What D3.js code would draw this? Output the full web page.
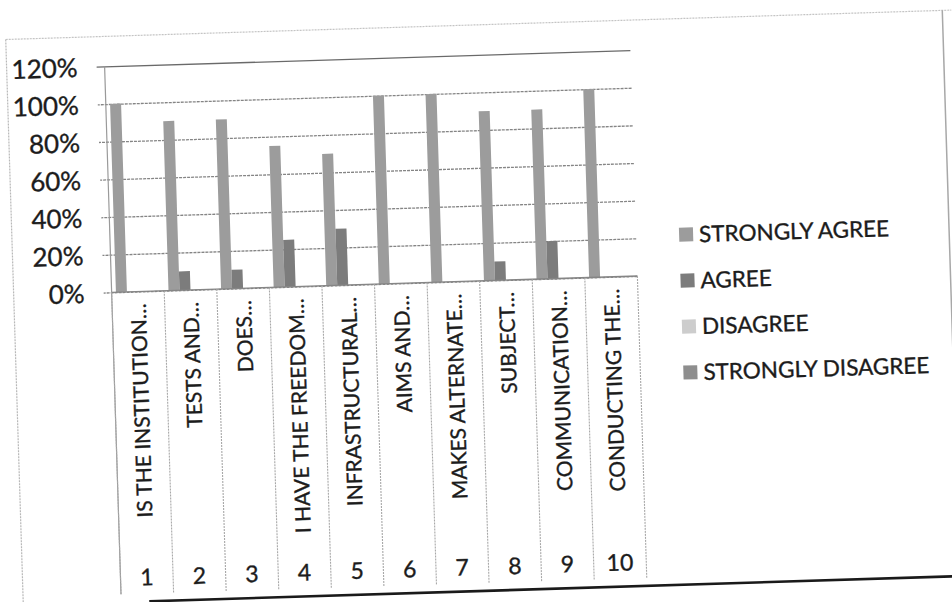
<!DOCTYPE html>
<html>
<head>
<meta charset="utf-8">
<script src="https://cdn.jsdelivr.net/npm/d3@7"></script>
<style>
  html, body { margin: 0; padding: 0; background: #ffffff; }
  svg { display: block; }
  text { font-family: Lato, "Open Sans", "Liberation Sans", sans-serif; fill: #1c1c1c; stroke: #1c1c1c; stroke-width: 0.35px; }
</style>
</head>
<body>
<svg id="chart" width="952" height="602"></svg>
<script>
// ---------------- data ----------------
const categories = ["IS THE INSTITUTION…", "TESTS AND…", "DOES…", "I HAVE THE FREEDOM…", "INFRASTRUCTURAL…",
                    "AIMS AND…", "MAKES ALTERNATE…", "SUBJECT…", "COMMUNICATION…", "CONDUCTING THE…"];
const categoryNumbers = ["1", "2", "3", "4", "5", "6", "7", "8", "9", "10"];
const seriesNames = ["STRONGLY AGREE", "AGREE", "DISAGREE", "STRONGLY DISAGREE"];
const stronglyAgree    = [1.00, 0.90, 0.90, 0.75, 0.70, 1.00, 1.00, 0.90, 0.90, 1.00];
const agree            = [0.00, 0.10, 0.10, 0.25, 0.30, 0.00, 0.00, 0.10, 0.20, 0.00];
const disagree         = [0, 0, 0, 0, 0, 0, 0, 0, 0, 0];
const stronglyDisagree = [0, 0, 0, 0, 0, 0, 0, 0, 0, 0];
const yTickValues = [0, 0.2, 0.4, 0.6, 0.8, 1.0, 1.2];
const seriesColors = ["#9c9c9c", "#7c7c7c", "#cdcdcd", "#8e8e8e"];

const seriesValues = [stronglyAgree, agree, disagree, stronglyDisagree];

// ---------------- layout ----------------
const svg = d3.select("#chart");
const root = svg.append("g").attr("transform", "rotate(-1.78, 380, 300)");

const plot = { left: 112, right: 638, top: 58, bottom: 284 };
const catBottom = 586;

// chart frame (scanned page border)
root.append("line").attr("x1", 14).attr("y1", 28).attr("x2", 960).attr("y2", 28)
  .attr("stroke", "#c4c4c4").attr("stroke-width", 1.2).attr("stroke-dasharray", "2,1");
root.append("line").attr("x1", 14).attr("y1", 28).attr("x2", 14).attr("y2", 596)
  .attr("stroke", "#b8b8b8").attr("stroke-width", 1.2).attr("stroke-dasharray", "2,1");
root.append("line").attr("x1", 951).attr("y1", 28).attr("x2", 951).attr("y2", 596)
  .attr("stroke", "#a8a8a8").attr("stroke-width", 1.5);
root.append("line").attr("x1", 140).attr("y1", 594).attr("x2", 980).attr("y2", 594)
  .attr("stroke", "#1a1a1a").attr("stroke-width", 2.6);

const y = d3.scaleLinear().domain([0, 1.2]).range([plot.bottom, plot.top]);
const x0 = d3.scaleBand().domain(d3.range(categories.length))
  .range([plot.left, plot.right]).paddingInner(0).paddingOuter(0);
const x1 = d3.scaleBand().domain(seriesNames).range([0, x0.bandwidth()])
  .paddingInner(0).paddingOuter(0.39);

// gridlines + y axis labels
const yAxis = d3.axisLeft(y).tickValues(yTickValues).tickFormat(d3.format(".0%"))
  .tickSize(plot.right - plot.left + 8).tickPadding(0);
const yg = root.append("g").attr("transform", `translate(${plot.right},0)`).call(yAxis);
yg.select(".domain").remove();
yg.selectAll(".tick line")
  .attr("stroke", d => d === 1.2 ? "#6a6a6a" : "#858585")
  .attr("stroke-width", 1.3)
  .attr("stroke-dasharray", d => d === 1.2 ? null : "3,1");
yg.selectAll(".tick text")
  .attr("x", -(plot.right - 85))
  .attr("dy", "0.35em")
  .attr("text-anchor", "end")
  .attr("fill", "#1c1c1c")
  .style("font-size", "26px");

// bars
const groups = root.append("g").selectAll("g")
  .data(categories.map((c, i) => i))
  .join("g")
  .attr("transform", i => `translate(${x0(i)},0)`);
groups.selectAll("rect")
  .data(i => seriesNames.map((s, k) => ({ s, k, v: seriesValues[k][i] })))
  .join("rect")
  .attr("x", d => x1(d.s))
  .attr("width", x1.bandwidth())
  .attr("y", d => y(d.v))
  .attr("height", d => y(0) - y(d.v))
  .attr("fill", d => seriesColors[d.k]);

// category axis: left line + separators
root.append("line").attr("x1", plot.left).attr("x2", plot.left)
  .attr("y1", plot.top).attr("y2", catBottom)
  .attr("stroke", "#9a9a9a").attr("stroke-width", 1.2);
root.append("line").attr("x1", plot.left).attr("x2", plot.right)
  .attr("y1", plot.bottom).attr("y2", plot.bottom)
  .attr("stroke", "#858585").attr("stroke-width", 1.3);
const bounds = d3.range(categories.length + 1).map(i => plot.left + i * x0.bandwidth());
root.append("g").selectAll("line").data(bounds).join("line")
  .attr("x1", d => d).attr("x2", d => d)
  .attr("y1", plot.bottom).attr("y2", catBottom)
  .attr("stroke", "#a8a8a8").attr("stroke-width", 1.1)
  .attr("stroke-dasharray", "2,1");

// category labels (rotated)
root.append("g").selectAll("text").data(categories).join("text")
  .attr("transform", (d, i) => `translate(${x0(i) + x0.bandwidth() / 2 + 7.5},296) rotate(-90)`)
  .attr("text-anchor", "end")
  .style("font-size", "21px")
  .text(d => d);

// category numbers
root.append("g").selectAll("text").data(categoryNumbers).join("text")
  .attr("x", (d, i) => x0(i) + x0.bandwidth() / 2)
  .attr("y", 578)
  .attr("text-anchor", "middle")
  .style("font-size", "23px")
  .text(d => d);

// legend
const legend = root.append("g").selectAll("g").data(seriesNames).join("g")
  .attr("transform", (d, i) => `translate(681,${244 + i * 46})`);
legend.append("rect").attr("x", 0).attr("y", -7).attr("width", 14).attr("height", 14)
  .attr("fill", (d, i) => seriesColors[i]);
legend.append("text").attr("x", 20).attr("dy", "0.36em")
  .style("font-size", "22.5px")
  .text(d => d);
</script>
</body>
</html>
